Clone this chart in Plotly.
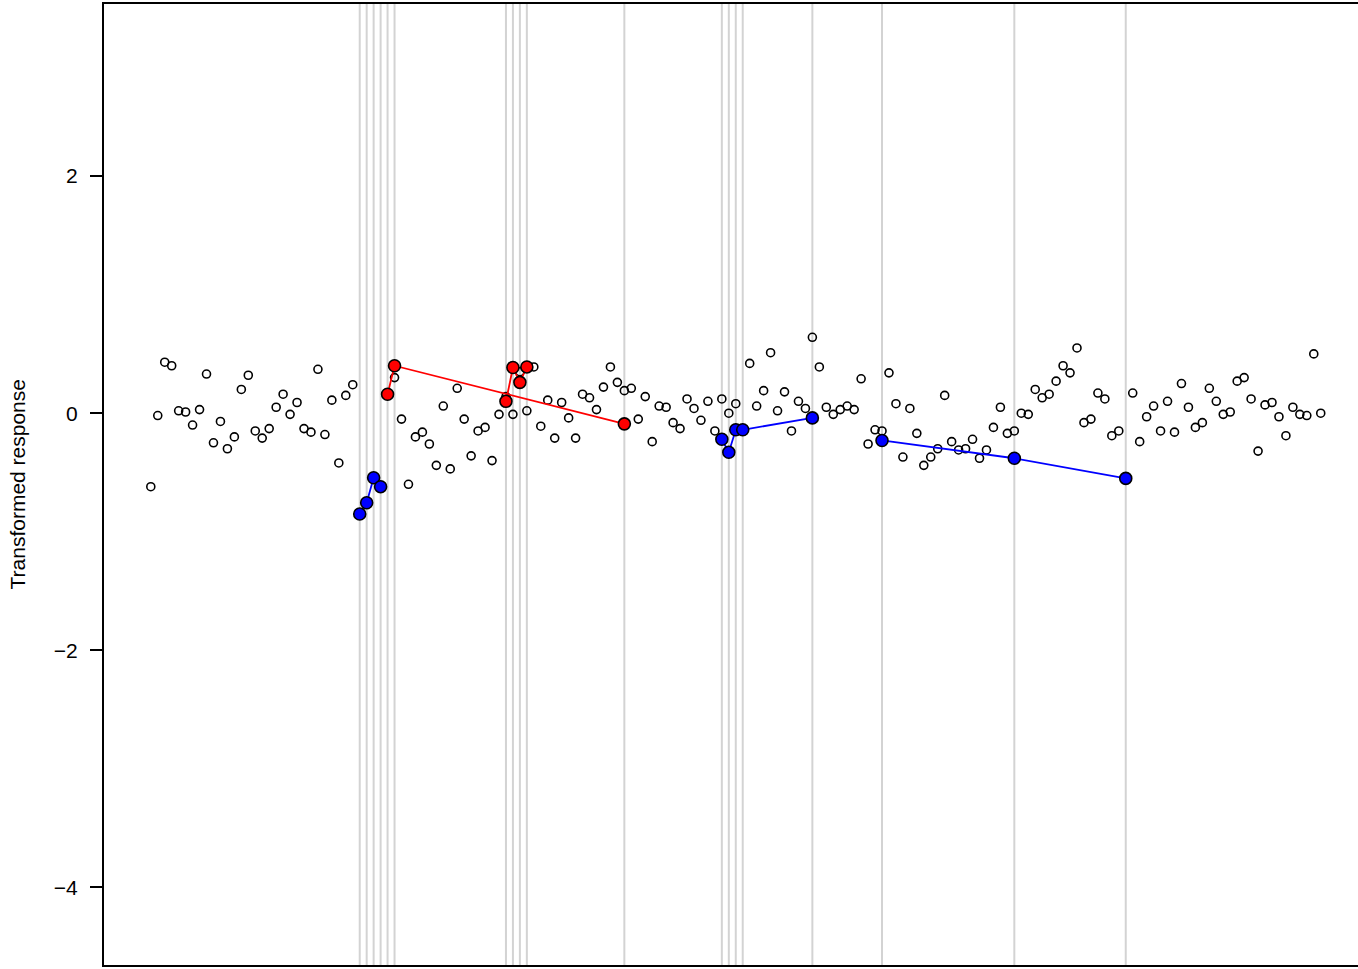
import plotly.graph_objects as go

# ---- data ----
response = [
    -0.62, -0.02, 0.43, 0.40, 0.02, 0.01, -0.10, 0.03, 0.33, -0.25,
    -0.07, -0.30, -0.20, 0.20, 0.32, -0.15, -0.21, -0.13, 0.05, 0.16,
    -0.01, 0.09, -0.13, -0.16, 0.37, -0.18, 0.11, -0.42, 0.15, 0.24,
    -0.85, -0.76, -0.55, -0.62, 0.16, 0.30, -0.05, -0.60, -0.20, -0.16,
    -0.26, -0.44, 0.06, -0.47, 0.21, -0.05, -0.36, -0.15, -0.12, -0.40,
    -0.01, 0.14, -0.01, 0.35, 0.02, 0.39, -0.11, 0.11, -0.21, 0.09,
    -0.04, -0.21, 0.16, 0.13, 0.03, 0.22, 0.39, 0.26, 0.19, 0.21,
    -0.05, 0.14, -0.24, 0.06, 0.05, -0.08, -0.13, 0.12, 0.04, -0.06,
    0.10, -0.15, 0.12, 0.00, 0.08, -0.14, 0.42, 0.06, 0.19, 0.51,
    0.02, 0.18, -0.15, 0.10, 0.04, 0.64, 0.39, 0.05, -0.01, 0.03,
    0.06, 0.03, 0.29, -0.26, -0.14, -0.15, 0.34, 0.08, -0.37, 0.04,
    -0.17, -0.44, -0.37, -0.30, 0.15, -0.24, -0.31, -0.30, -0.22, -0.38,
    -0.31, -0.12, 0.05, -0.17, -0.15, 0.00, -0.01, 0.20, 0.13, 0.16,
    0.27, 0.40, 0.34, 0.55, -0.08, -0.05, 0.17, 0.12, -0.19, -0.15,
    -0.55, 0.17, -0.24, -0.03, 0.06, -0.15, 0.10, -0.16, 0.25, 0.05,
    -0.12, -0.08, 0.21, 0.10, -0.01, 0.01, 0.27, 0.30, 0.12, -0.32,
    0.07, 0.09, -0.03, -0.19, 0.05, -0.01, -0.02, 0.50, 0.00,
]
index = list(range(1, len(response) + 1))

red_groups_x = [[35, 36, 69], [52, 53, 54, 55]]
red_groups_y = [[0.16, 0.40, -0.09], [0.10, 0.385, 0.26, 0.39]]
blue_groups_x = [[31, 32, 33, 34], [83, 84, 85, 86, 96], [106, 125, 141]]
blue_groups_y = [[-0.85, -0.755, -0.545, -0.62], [-0.22, -0.33, -0.14, -0.14, -0.04],
                 [-0.23, -0.38, -0.55]]

ytick_vals = [-4, -2, 0, 2]
ytick_text = ["\u22124", "\u22122", "0", "2"]
y_title = "Transformed response"

# ---- figure ----
fig = go.Figure()

marked = sorted({x for g in red_groups_x + blue_groups_x for x in g})
for xv in marked:
    fig.add_shape(type="line", xref="x", yref="paper", x0=xv, x1=xv, y0=0, y1=1,
                  line=dict(color="#d3d3d3", width=2), layer="below")

fig.add_trace(go.Scatter(
    x=index, y=response, mode="markers",
    marker=dict(symbol="circle", size=8, color="rgba(255,255,255,0)",
                line=dict(color="black", width=1.6)),
    hoverinfo="x+y", showlegend=False))

for gx, gy in zip(red_groups_x, red_groups_y):
    fig.add_trace(go.Scatter(x=gx, y=gy, mode="lines+markers",
                             line=dict(color="#ff0000", width=1.8),
                             marker=dict(size=12, color="#ff0000",
                                         line=dict(color="black", width=1.6)),
                             showlegend=False))
for gx, gy in zip(blue_groups_x, blue_groups_y):
    fig.add_trace(go.Scatter(x=gx, y=gy, mode="lines+markers",
                             line=dict(color="#0000ff", width=1.8),
                             marker=dict(size=12, color="#0000ff",
                                         line=dict(color="black", width=1.6)),
                             showlegend=False))

fig.add_annotation(text=y_title, xref="paper", yref="paper",
                   x=(17 - 104) / 1254, y=0.5, textangle=-90,
                   xanchor="center", yanchor="middle", showarrow=False,
                   font=dict(family="Liberation Sans, Arial, sans-serif", size=21, color="black"))

fig.update_layout(
    width=1358, height=969,
    margin=dict(l=104, r=0, t=4, b=4),
    paper_bgcolor="white", plot_bgcolor="white",
    font=dict(family="Liberation Sans, Arial, sans-serif", size=21, color="black"),
    xaxis=dict(range=[-5.72, 174.35], showgrid=False, zeroline=False,
               showticklabels=False, ticks="", showline=True, mirror=True,
               linecolor="black", linewidth=2),
    yaxis=dict(range=[-4.654, 3.451], showgrid=False, zeroline=False,
               tickvals=ytick_vals, ticktext=ytick_text, ticks="outside",
               ticklen=12, tickwidth=1.5, tickcolor="black",
               showline=True, mirror=False, linecolor="black", linewidth=2,
               ticklabelstandoff=8),
)

fig.write_html("out.html", config={"displayModeBar": False},
               post_script="document.body.style.margin='0';")
